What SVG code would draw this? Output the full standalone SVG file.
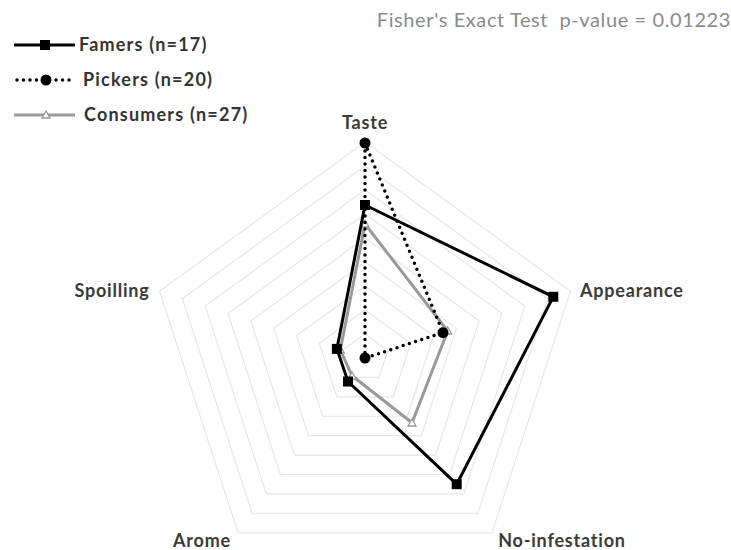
<svg xmlns="http://www.w3.org/2000/svg" width="731" height="550" viewBox="0 0 731 550">
<style>
.grid{fill:none;stroke:#e6e6e6;stroke-width:1.2}
.lbl{font-family:Lato,"Liberation Sans",sans-serif;font-weight:bold;font-size:18px;letter-spacing:0.8px;fill:#3a3a3a}
.leg{font-family:Lato,"Liberation Sans",sans-serif;font-weight:bold;font-size:18px;letter-spacing:1.2px;fill:#333}
.title{font-family:Lato,"Liberation Sans",sans-serif;font-size:20px;letter-spacing:0.6px;fill:#8a8a8a}
.fam{fill:none;stroke:#000;stroke-width:3;stroke-linejoin:miter}
.pick{fill:none;stroke:#000;stroke-width:3.5;stroke-dasharray:0 6.5;stroke-linecap:round}
.cons{fill:none;stroke:#999;stroke-width:3;stroke-linejoin:miter}
.sq{fill:#000}
.dot{fill:#000}
.tri{fill:#fff;stroke:#999;stroke-width:1.3}
</style>
<rect width="731" height="550" fill="#fff"/>
<g id="grid">
<polygon class="grid" points="365,334 387.83,350.58 379.11,377.42 350.89,377.42 342.17,350.58"/>
<polygon class="grid" points="365,310 410.65,343.17 393.21,396.83 336.79,396.83 319.35,343.17"/>
<polygon class="grid" points="365,286 433.48,335.75 407.32,416.25 322.68,416.25 296.52,335.75"/>
<polygon class="grid" points="365,262 456.31,328.34 421.43,435.66 308.57,435.66 273.69,328.34"/>
<polygon class="grid" points="365,238 479.13,320.92 435.54,455.08 294.46,455.08 250.87,320.92"/>
<polygon class="grid" points="365,214 501.96,313.50 449.64,474.50 280.36,474.50 228.04,313.50"/>
<polygon class="grid" points="365,190 524.78,306.09 463.75,493.91 266.25,493.91 205.22,306.09"/>
<polygon class="grid" points="365,166 547.61,298.67 477.86,513.33 252.14,513.33 182.39,298.67"/>
<polygon class="grid" points="365,142 570.44,291.26 491.96,532.74 238.04,532.74 159.56,291.26"/>
</g>
<text class="title" x="731" y="27" text-anchor="end" xml:space="preserve">Fisher's Exact Test  p-value = 0.01223</text>
<g id="axis-labels">
<g id="label-taste"><text class="lbl" x="365" y="129" text-anchor="middle">Taste</text></g>
<g id="label-appearance"><text class="lbl" x="580" y="297">Appearance</text></g>
<g id="label-noinfestation"><text class="lbl" x="562" y="547" text-anchor="middle">No-infestation</text></g>
<g id="label-arome"><text class="lbl" x="202" y="547" text-anchor="middle">Arome</text></g>
<g id="label-spoilling"><text class="lbl" x="112" y="297" text-anchor="middle">Spoilling</text></g>
</g>
<g id="series">
<g id="consumers">
<polygon class="cons" points="365,224 447.7,331.1 412,422.7 352.1,375.8 340.3,350"/>
<polygon class="tri" points="365,220 369,227 361,227"/>
<polygon class="tri" points="447.7,327 451.7,334 443.7,334"/>
<polygon class="tri" points="412,419 416,426 408,426"/>
<polygon class="tri" points="352.1,372 356.1,379 348.1,379"/>
<polygon class="tri" points="340.3,346 344.3,353 336.3,353"/>
</g>
<g id="pickers">
<polygon class="pick" points="365,143 443,332.7 365,358 365,358 365,358"/>
<circle class="dot" cx="365" cy="143" r="5.5"/>
<circle class="dot" cx="443" cy="332.7" r="5.5"/>
<circle class="dot" cx="365" cy="358" r="5.5"/>
</g>
<g id="famers">
<polygon class="fam" points="365,205 553.3,296.8 456.7,484.2 348,381.5 336.9,348.9"/>
<rect class="sq" x="360" y="200" width="10" height="10"/>
<rect class="sq" x="548.3" y="291.8" width="10" height="10"/>
<rect class="sq" x="451.7" y="479.2" width="10" height="10"/>
<rect class="sq" x="343" y="376.5" width="10" height="10"/>
<rect class="sq" x="331.9" y="343.9" width="10" height="10"/>
</g>
</g>
<g id="legend">
<g id="legend-famers">
<line class="fam" x1="14" y1="45" x2="75" y2="45"/>
<rect class="sq" x="40" y="40" width="10" height="10"/>
<text class="leg" x="79" y="51">Famers (n=17)</text>
</g>
<g id="legend-pickers">
<line class="pick" x1="17" y1="80" x2="74" y2="80"/>
<circle class="dot" cx="46" cy="80" r="5.5"/>
<text class="leg" x="83" y="86">Pickers (n=20)</text>
</g>
<g id="legend-consumers">
<line class="cons" x1="14" y1="115" x2="75" y2="115"/>
<polygon class="tri" points="46,111 50,118 42,118"/>
<text class="leg" x="84" y="121">Consumers (n=27)</text>
</g>
</g>
</svg>
